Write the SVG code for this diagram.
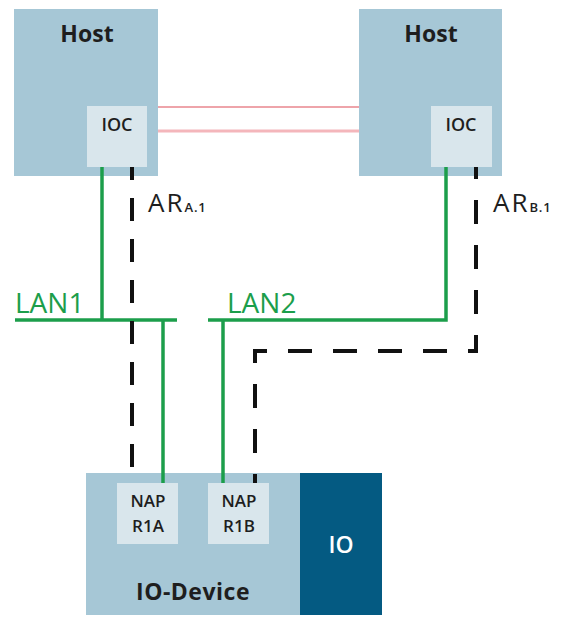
<svg xmlns="http://www.w3.org/2000/svg" width="561" height="628" viewBox="0 0 561 628">
<style>
.host{fill:#a6c7d6}
.sub{fill:#d9e6ec}
.t{font-family:"Open Sans","Noto Sans",sans-serif;fill:#1e1e1e;text-anchor:middle}
.b{font-weight:700}
.sb{font-weight:600}
.lan{stroke:#1c9e4b;stroke-width:3.5;fill:none}
.lant{font-family:"Open Sans","Noto Sans",sans-serif;fill:#1c9e4b;font-size:28px}
.ar{stroke:#111;stroke-width:4;fill:none}
.art{font-family:"Open Sans","Noto Sans",sans-serif;fill:#1e1e1e}
</style>
<rect width="561" height="628" fill="#fff"/>
<g id="host1">
<rect class="host" x="14" y="9" width="144" height="167"/>
<text class="t b" x="87" y="42" font-size="23">Host</text>
</g>
<g id="ioc1">
<rect class="sub" x="87" y="106" width="60" height="61"/>
<text class="t sb" x="117" y="131" font-size="18">IOC</text>
</g>
<g id="host2">
<rect class="host" x="359" y="9" width="143" height="167"/>
<text class="t b" x="431" y="42" font-size="23">Host</text>
</g>
<g id="ioc2">
<rect class="sub" x="431" y="106" width="61" height="61"/>
<text class="t sb" x="461" y="131" font-size="18">IOC</text>
</g>
<g id="iodevice">
<rect class="host" x="86" y="473" width="214" height="142"/>
<text class="t b" x="193" y="600" font-size="23" letter-spacing="0.5">IO-Device</text>
</g>
<g id="io">
<rect x="300" y="473" width="82" height="142" fill="#045a82"/>
<text class="t sb" x="341" y="553" font-size="23" style="fill:#fff">IO</text>
</g>
<g id="napr1a">
<rect class="sub" x="117" y="483" width="61" height="61"/>
<text class="t sb" x="148" y="507" font-size="17">NAP</text>
<text class="t sb" x="148" y="532" font-size="17">R1A</text>
</g>
<g id="napr1b">
<rect class="sub" x="208" y="483" width="61" height="61"/>
<text class="t sb" x="239" y="507" font-size="17">NAP</text>
<text class="t sb" x="239" y="532" font-size="17">R1B</text>
</g>
<g id="connectors">
<line x1="158" y1="107" x2="359" y2="107" stroke="#e8868e" stroke-width="1.6"/>
<line x1="158" y1="131" x2="359" y2="131" stroke="#f4b6bb" stroke-width="3"/>
<polyline class="lan" points="102,167 102,320"/>
<line class="lan" x1="15" y1="320" x2="177" y2="320"/>
<line class="lan" x1="163" y1="320" x2="163" y2="483"/>
<polyline class="lan" points="446,167 446,320 208,320"/>
<line class="lan" x1="223" y1="320" x2="223" y2="483"/>
<line class="ar" x1="132" y1="167" x2="132" y2="483" stroke-dasharray="23 18" stroke-dashoffset="10"/>
<polyline class="ar" points="476,167 476,351 255,351 255,483" stroke-dasharray="24 21" stroke-dashoffset="12"/>
</g>
<g id="labels">
<text class="lant" x="15" y="313">LAN1</text>
<text class="lant" x="227" y="313">LAN2</text>
<text class="art" x="148" y="212" font-size="26" letter-spacing="2">AR<tspan font-size="13" font-weight="600" letter-spacing="0.8">A.1</tspan></text>
<text class="art" x="493" y="212" font-size="26" letter-spacing="2">AR<tspan font-size="13" font-weight="600" letter-spacing="0.8">B.1</tspan></text>
</g>
</svg>
